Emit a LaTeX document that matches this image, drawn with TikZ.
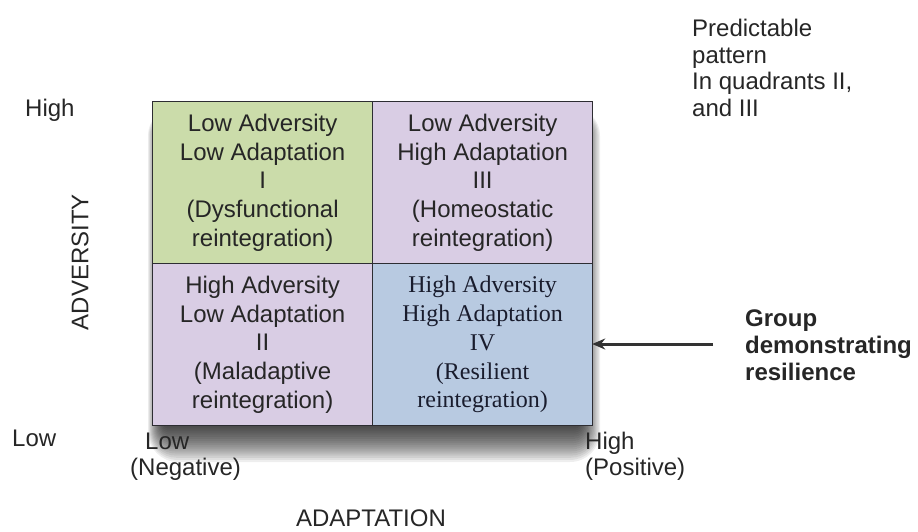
\documentclass[tikz,border=0pt]{standalone}
\usepackage{fontspec}
\setmainfont{Liberation Sans}
\newfontfamily\serifquad{Liberation Serif}
\usetikzlibrary{arrows.meta}

\definecolor{quadgreen}{RGB}{203,220,170}
\definecolor{quadlilac}{RGB}{217,205,228}
\definecolor{quadblue}{RGB}{184,202,225}
\definecolor{framegray}{RGB}{45,45,50}

\begin{document}
\begin{tikzpicture}[x=1pt,y=-1pt,
  lbl/.style={font=\fontsize{24}{26.7}\selectfont, inner sep=0pt, text=black!85},
  multilbl/.style={lbl, align=left, anchor=north west},
  cell/.style={draw=framegray, line width=1.3pt, minimum width=220pt,
    minimum height=162pt, anchor=north west, inner sep=0pt},
  celltext/.style={font=\fontsize{24}{28.7}\selectfont, align=center,
    inner sep=0pt, text=black!85},
  shadowlayer/.style={fill=black, opacity=0.065}
]
\useasboundingbox (0,0) rectangle (918,531);

% soft shadow falling below the 2x2 grid: stacked translucent layers
\foreach \k in {1,...,20} {
  \fill[shadowlayer, rounded corners={1.5*\k pt}]
    ({166-0.9*\k},{130-1.2*\k}) rectangle ({576+1.2*\k},{420+2.1*\k});
}
\node[minimum width=440pt, minimum height=324pt, inner sep=0pt] (frame) at (372,263) {};

% quadrants
\node[cell, fill=quadgreen] (q1) at (152,101) {};
\node[cell, fill=quadlilac] (q3) at (372,101) {};
\node[cell, fill=quadlilac] (q2) at (152,263) {};
\node[cell, fill=quadblue]  (q4) at (372,263) {};

\node[celltext] (t1) at (q1.center) {Low Adversity\\Low Adaptation\\I\\(Dysfunctional\\reintegration)};
\node[celltext] (t3) at (q3.center) {Low Adversity\\High Adaptation\\III\\(Homeostatic\\reintegration)};
\node[celltext] (t2) at (q2.center) {High Adversity\\Low Adaptation\\II\\(Maladaptive\\reintegration)};
\node[celltext, font=\serifquad\fontsize{24}{28.7}\selectfont, text={rgb,255:red,25;green,28;blue,45}]
  (t4) at (q4.center) {High Adversity\\High Adaptation\\IV\\(Resilient\\reintegration)};

% vertical axis labels
\node[lbl, anchor=base west] (yhigh) at (25,116) {High};
\node[lbl, anchor=base west] (ylow) at (12,446) {Low};
\node[lbl, rotate=90] (yaxis) at (80,262) {ADVERSITY};

% horizontal axis labels
\node[lbl, anchor=base west] (xlow) at (145,449) {Low};
\node[lbl, anchor=base west] (xneg) at (130,475) {(Negative)};
\node[lbl, anchor=base west] (xhigh) at (585,449) {High};
\node[lbl, anchor=base west] (xpos) at (585,475) {(Positive)};
\node[lbl, anchor=base] (xaxis) at (371,526) {ADAPTATION};

% notes
\node[multilbl] (note) at (692,19) {Predictable\\pattern\\In quadrants II,\\and III};
\node[multilbl, font=\bfseries\fontsize{24}{26.7}\selectfont] (group) at (745,310)
  {Group\\demonstrating\\resilience};

\coordinate (arrowstart) at (713,344);
\draw[line width=3pt, draw=black!80, -{Stealth[length=13pt,width=11pt]}]
  (arrowstart) -- (frame.east |- arrowstart);
\end{tikzpicture}
\end{document}
